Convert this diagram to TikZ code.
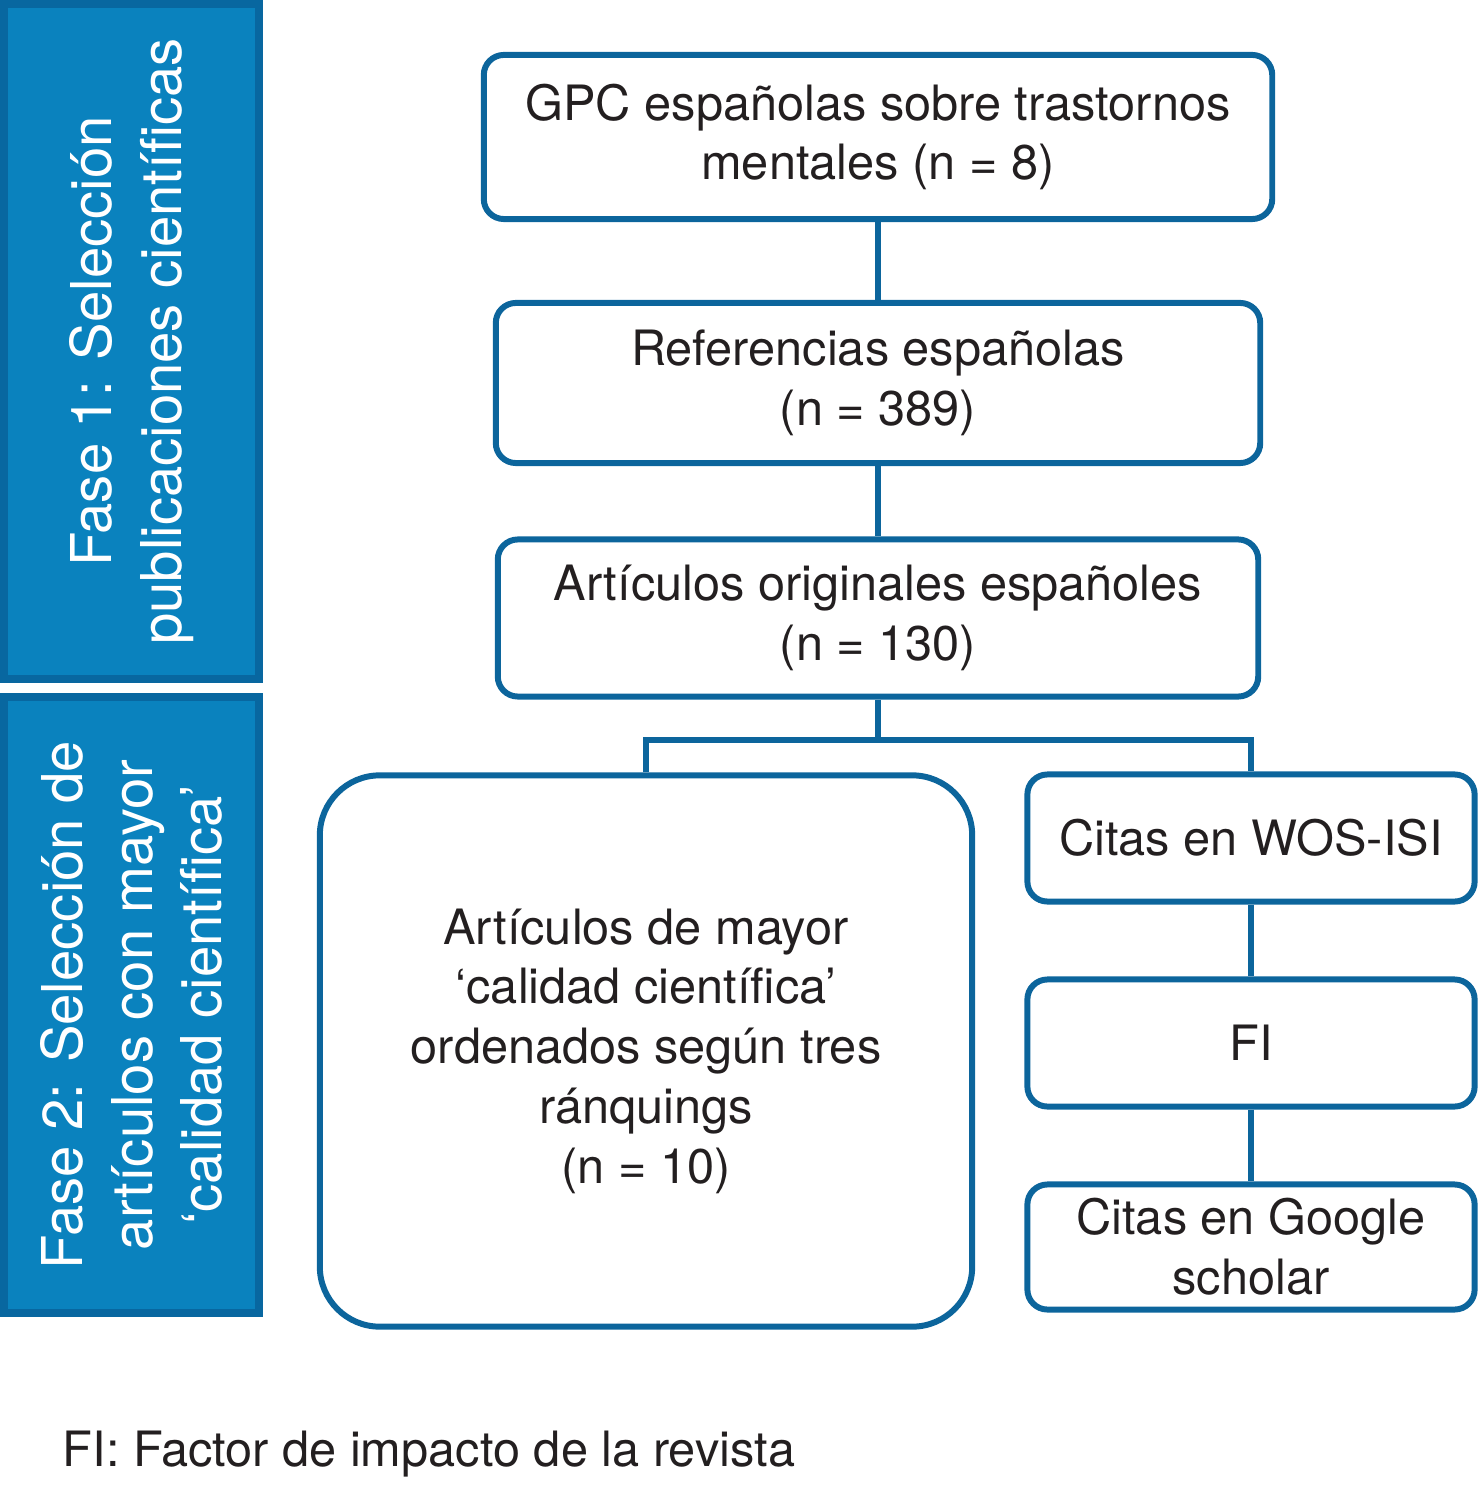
\documentclass[tikz,border=0pt]{standalone}
\usepackage{fontspec}
\setmainfont{TeX Gyre Heros}
\usepackage{tikz}
\definecolor{panelblue}{HTML}{0A82BE}
\definecolor{paneledge}{HTML}{0867A0}
\definecolor{boxblue}{HTML}{0C659C}
\definecolor{textgray}{HTML}{231F20}
\begin{document}
\begin{tikzpicture}[x=0.01cm,y=-0.01cm]
    \tikzstyle{link}=[draw=boxblue,line width=1.7pt,-]
    \tikzstyle{box}=[rectangle,draw=boxblue,line width=1.7pt,rounded corners=0.2cm,fill=white,align=center,inner sep=0pt,text=textgray,font=\fontsize{13.85}{17}\selectfont]
    \tikzstyle{panel}=[rectangle,draw=paneledge,line width=2.2pt,fill=panelblue,align=center,inner sep=0pt,text=white,rotate=90,font=\fontsize{16}{19.8}\selectfont]

    \useasboundingbox (0,0) rectangle (1481,1489);

    % fases
    \node[panel,minimum width=6.75cm,minimum height=2.55cm] (fase1) at (131.5,341.5) {Fase 1: Selección\\publicaciones científicas};
    \node[panel,minimum width=6.16cm,minimum height=2.55cm] (fase2) at (131.5,1005) {Fase 2: Selección de\\artículos con mayor\\‘calidad científica’};

    % cajas
    \node[box,minimum width=7.88cm,minimum height=1.64cm] (gpc) at (878,137) {GPC españolas sobre trastornos\\mentales (n = 8)};
    \node[box,minimum width=7.64cm,minimum height=1.60cm] (ref) at (878,383) {Referencias españolas\\(n = 389)};
    \node[box,minimum width=7.60cm,minimum height=1.57cm] (art) at (878,618) {Artículos originales españoles\\(n = 130)};
    \node[box,rounded corners=0.6cm,minimum width=6.52cm,minimum height=5.51cm] (top) at (646,1051) {Artículos de mayor\\‘calidad científica’\\ordenados según tres\\ránquings\\(n = 10)};
    \node[box,minimum width=4.47cm,minimum height=1.27cm] (wos) at (1251,838) {Citas en WOS-ISI};
    \node[box,minimum width=4.47cm,minimum height=1.27cm] (fi) at (1251,1043) {FI};
    \node[box,minimum width=4.47cm,minimum height=1.25cm] (gs) at (1251,1247) {Citas en Google\\scholar};

    \coordinate (split) at (878,740);

    \path[link] (gpc) -- (ref);
    \path[link] (ref) -- (art);
    \path[link] (art.south) -- (split);
    \path[link] (top.north) |- (split) -| (wos.north);
    \path[link] (wos) -- (fi);
    \path[link] (fi) -- (gs);

    \node[anchor=base west,inner sep=0pt,text=textgray,font=\fontsize{13.85}{17}\selectfont] (nota) at (62,1466) {FI: Factor de impacto de la revista};
\end{tikzpicture}
\end{document}
